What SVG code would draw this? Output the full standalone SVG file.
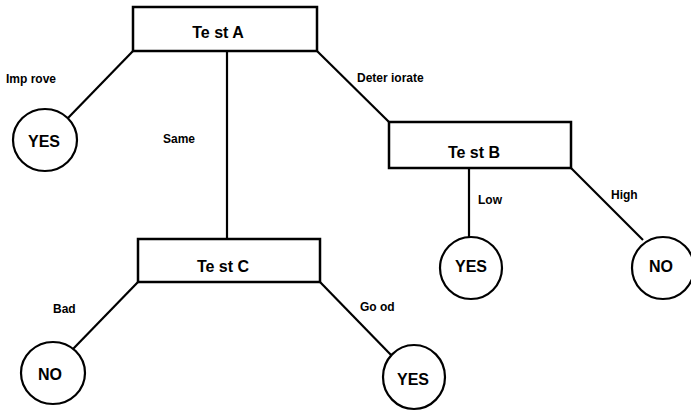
<svg xmlns="http://www.w3.org/2000/svg" width="691" height="411" viewBox="0 0 691 411">
<style>
.box{fill:#fff;stroke:#000;stroke-width:2.5}
.leaf{fill:#fff;stroke:#000;stroke-width:2.2}
.edge{stroke:#000;stroke-width:2.2;fill:none}
.t{font-family:"Liberation Sans",Arial,sans-serif;font-weight:bold;font-size:16px;text-anchor:middle;dominant-baseline:central}
.l{font-family:"Liberation Sans",Arial,sans-serif;font-weight:bold;font-size:12px}
</style>
<rect width="691" height="411" fill="#fff"/>
<g id="connectors">
<line class="edge" x1="133" y1="51" x2="68" y2="118"/>
<line class="edge" x1="227" y1="51" x2="227" y2="239"/>
<line class="edge" x1="317" y1="51" x2="389" y2="122"/>
<line class="edge" x1="469" y1="168" x2="469" y2="238"/>
<line class="edge" x1="571" y1="168" x2="643" y2="240"/>
<line class="edge" x1="138" y1="282" x2="73" y2="349"/>
<line class="edge" x1="320" y1="282" x2="392" y2="356"/>
<text class="l" x="6" y="83">Imp rove</text>
<text class="l" x="163" y="143">Same</text>
<text class="l" x="357" y="82">Deter iorate</text>
<text class="l" x="478" y="204">Low</text>
<text class="l" x="611" y="199">High</text>
<text class="l" x="53" y="313">Bad</text>
<text class="l" x="360" y="311">Go od</text>
</g>
<g id="testA"><rect class="box" x="133" y="7" width="184" height="44"/><text class="t" x="218" y="32">Te st A</text></g>
<g id="testB"><rect class="box" x="389" y="122" width="182" height="46"/><text class="t" x="474" y="152">Te st B</text></g>
<g id="testC"><rect class="box" x="138" y="239" width="182" height="43"/><text class="t" x="223" y="266">Te st C</text></g>
<g id="yes1"><ellipse class="leaf" cx="45" cy="140" rx="32" ry="31"/><text class="t" x="44" y="141">YES</text></g>
<g id="yes2"><ellipse class="leaf" cx="471" cy="268" rx="31" ry="31"/><text class="t" x="471" y="266">YES</text></g>
<g id="no1"><ellipse class="leaf" cx="663" cy="268" rx="31" ry="31"/><text class="t" x="661" y="266">NO</text></g>
<g id="no2"><ellipse class="leaf" cx="53" cy="373" rx="32" ry="31"/><text class="t" x="50" y="374">NO</text></g>
<g id="yes3"><ellipse class="leaf" cx="414" cy="377" rx="31" ry="32"/><text class="t" x="413" y="379">YES</text></g>
</svg>
